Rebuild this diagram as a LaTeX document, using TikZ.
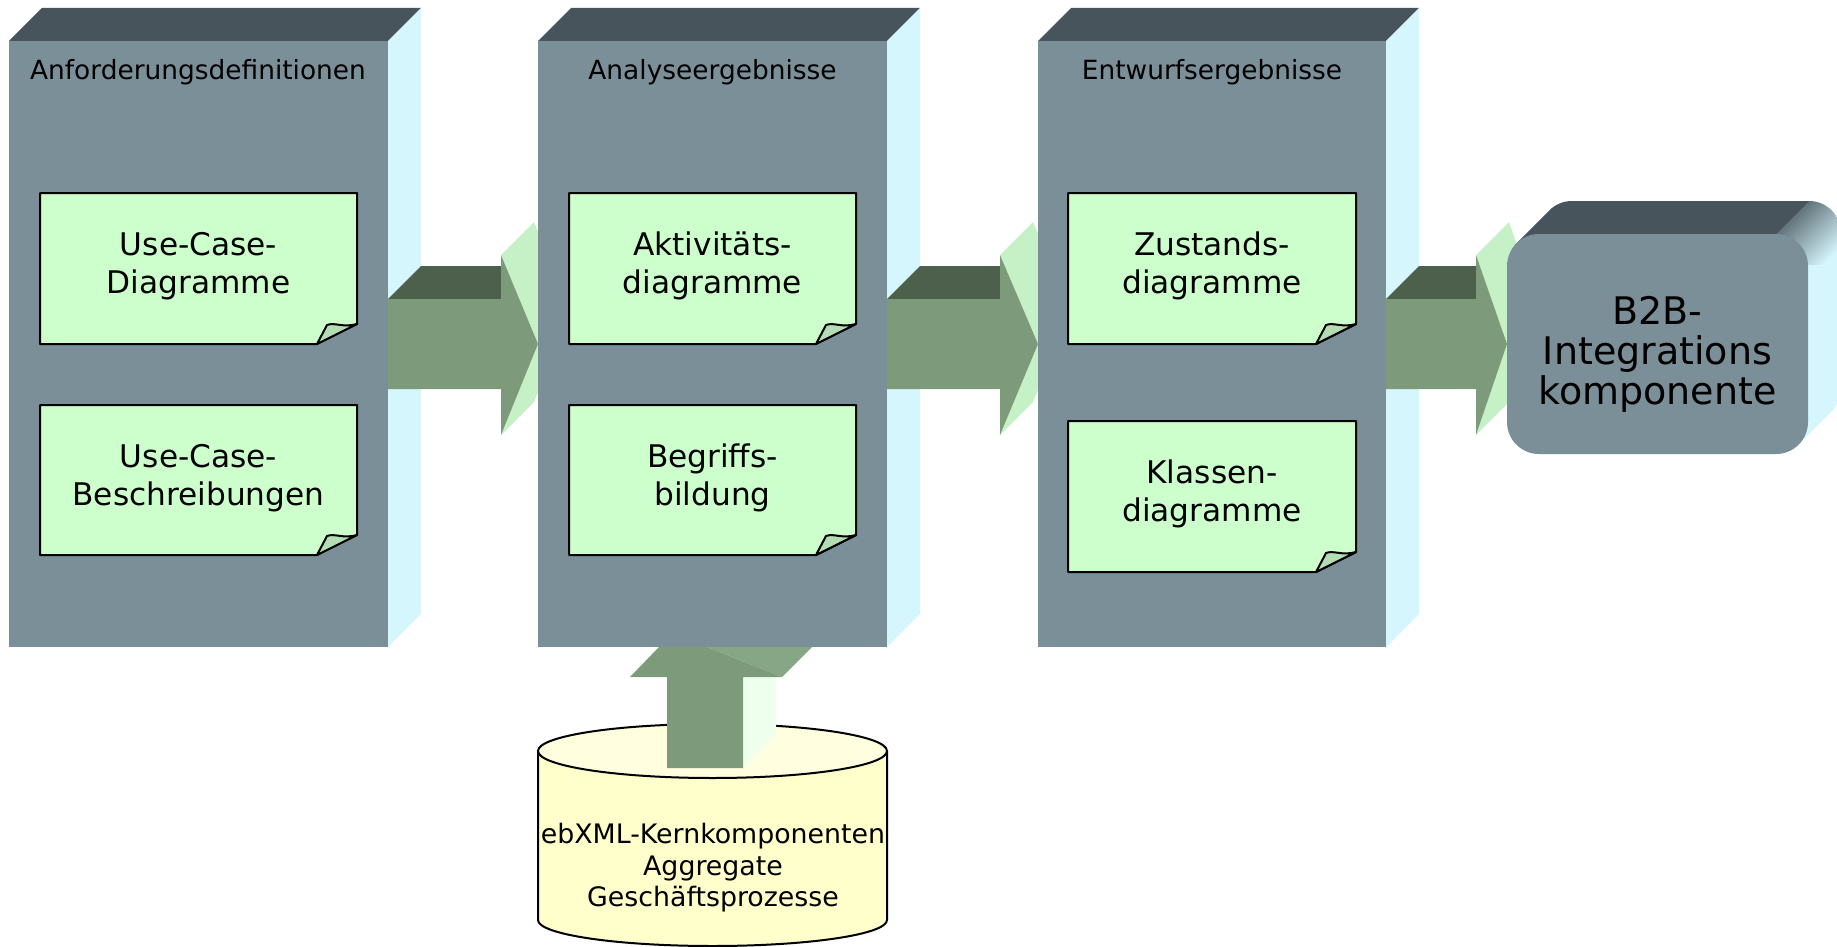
\documentclass[tikz,border=0pt]{standalone}
\usepackage{fontspec}
\setmainfont{DejaVu Sans}

\definecolor{boxfront}{HTML}{7B8F99}
\definecolor{boxtop}{HTML}{47545C}
\definecolor{boxside}{HTML}{D6F6FD}
\definecolor{boxmid}{HTML}{8FAFCB}
\definecolor{notefill}{HTML}{CCFFCC}
\definecolor{notefold}{HTML}{B4DDB4}
\definecolor{arrfront}{HTML}{7D9B7B}
\definecolor{arrtop}{HTML}{4D604C}
\definecolor{arrside}{HTML}{C6F0C6}
\definecolor{upside}{HTML}{EEFFEE}
\definecolor{uphead}{HTML}{87A685}
\definecolor{cylfill}{HTML}{FFFFCC}
\definecolor{cyltop}{HTML}{FFFFE0}

% extruded phase block: front face (x1,y1)-(x2,y2), depth towards upper right
\newcommand\phasebox[4]{%
  \fill[boxtop] (#1,#2) -- ({#1+33},{#2-33}) -- ({#3+33},{#2-33}) -- (#3,#2) -- cycle;
  \fill[boxside] (#3,#2) -- ({#3+33},{#2-33}) -- ({#3+33},{#4-33}) -- (#3,#4) -- cycle;
  \fill[boxfront] (#1,#2) rectangle (#3,#4);
}

% extruded block arrow: shaft start x, head back x, tip x
\newcommand\flowarrow[3]{%
  \fill[arrtop] (#1,299) -- ({#1+33},266) -- (#2,266) -- (#2,299) -- cycle;
  \fill[arrside] (#2,255) -- ({#2+33},222) -- ({#3+33},311) -- (#3,344) -- cycle;
  \fill[arrside] (#3,344) -- ({#3+33},311) -- ({#2+33},402) -- (#2,435) -- cycle;
  \fill[arrfront] (#1,299) -- (#2,299) -- (#2,255) -- (#3,344) -- (#2,435)
     -- (#2,389) -- (#1,389) -- cycle;
}

% note sheet with folded corner: name, x1, y1, x2, y2, text
\newcommand\memo[6]{%
  \filldraw[notesheet] (#2,#3) -- (#4,#3) -- (#4,{#5-20}) -- ({#4-40},#5)
     -- (#2,#5) -- cycle;
  \filldraw[notesheet, fill=notefold] ({#4-40},#5) -- ({#4-30},{#5-19})
     .. controls ({#4-22},{#5-22}) and ({#4-14},{#5-16}) .. (#4,{#5-20}) -- cycle;
  \node[notetext] (#1) at ({(#2+#4)/2},{#3+73}) {#6};
}

\begin{document}
\begin{tikzpicture}[x=0.5pt, y=-0.5pt,
  notesheet/.style={fill=notefill, draw=black, line width=1pt, line join=round},
  notetext/.style={font=\fontsize{15.6}{18.75}\selectfont, align=center, inner sep=0pt},
  phasetitle/.style={font=\fontsize{13.2}{16}\selectfont, anchor=base, inner sep=0pt},
  dbtext/.style={font=\fontsize{13.4}{15.75}\selectfont, align=center, inner sep=0pt},
  goaltext/.style={font=\fontsize{19}{20}\selectfont, align=center, inner sep=0pt}]

\useasboundingbox (0,0) rectangle (1837,947);

% first phase block and its outgoing arrow
\phasebox{9}{41}{388}{647}
\node[phasetitle] (req) at (198,80) {Anforderungsdefinitionen};
\memo{ucd}{40}{193}{357}{344}{Use-Case-\\Diagramme}
\memo{ucb}{40}{405}{357}{555}{Use-Case-\\Beschreibungen}
\flowarrow{388}{501}{538}

% repository cylinder
\fill[cylfill] (538,751) -- (538,920)
   arc[start angle=180, end angle=360, x radius=87.25pt, y radius=13pt]
   -- (887,751) -- cycle;
\draw[line width=1pt] (538,751) -- (538,920)
   arc[start angle=180, end angle=360, x radius=87.25pt, y radius=13pt]
   -- (887,751);
\filldraw[fill=cyltop, line width=1pt] (712.5,751) ellipse [x radius=87.25pt, y radius=13.5pt];
\node[dbtext] (repo) at (713,868) {ebXML-Kernkomponenten\\Aggregate\\Geschäftsprozesse};

% upward arrow from the repository into the analysis block
\fill[upside] (743,768) -- (776,735) -- (776,644) -- (743,677) -- cycle;
\fill[uphead] (782,677) -- (815,644) -- (705.5,600) -- (672.5,633) -- cycle;
\fill[arrfront] (667,768) -- (667,677) -- (630,677) -- (672.5,633) -- (782,677)
   -- (743,677) -- (743,768) -- cycle;

% second phase block
\phasebox{538}{41}{887}{647}
\node[phasetitle] (ana) at (712.5,80) {Analyseergebnisse};
\memo{akt}{569}{193}{856}{344}{Aktivitäts-\\diagramme}
\memo{beg}{569}{405}{856}{555}{Begriffs-\\bildung}
\flowarrow{887}{1000}{1038}

% third phase block
\phasebox{1038}{41}{1386}{647}
\node[phasetitle] (ent) at (1212,80) {Entwurfsergebnisse};
\memo{zus}{1068}{193}{1356}{344}{Zustands-\\diagramme}
\memo{kla}{1068}{421}{1356}{572}{Klassen-\\diagramme}
\flowarrow{1386}{1476}{1507}

% resulting component: rounded block swept towards the upper right
\begin{scope}
  \clip \foreach \t in {0,...,33} {
    [rounded corners=16pt] ({1507+\t},{234-\t}) rectangle ({1808+\t},{454-\t}) };
  \fill[boxside] (1500,190) rectangle (1845,460);
  \fill[boxtop] (1500,190) rectangle (1575,245);
  \shade[top color=boxtop, middle color=boxmid, bottom color=boxside, shading angle=45]
    (1776,195) rectangle (1845,264);
\end{scope}
\fill[boxtop] (1539,234) -- (1572,201) -- (1809,201) -- (1776,234) -- cycle;
\fill[boxfront, rounded corners=16pt] (1507,234) rectangle (1808,454);
\node[goaltext] (b2b) at (1657.5,354) {B2B-\\Integrations\\komponente};

\end{tikzpicture}
\end{document}
